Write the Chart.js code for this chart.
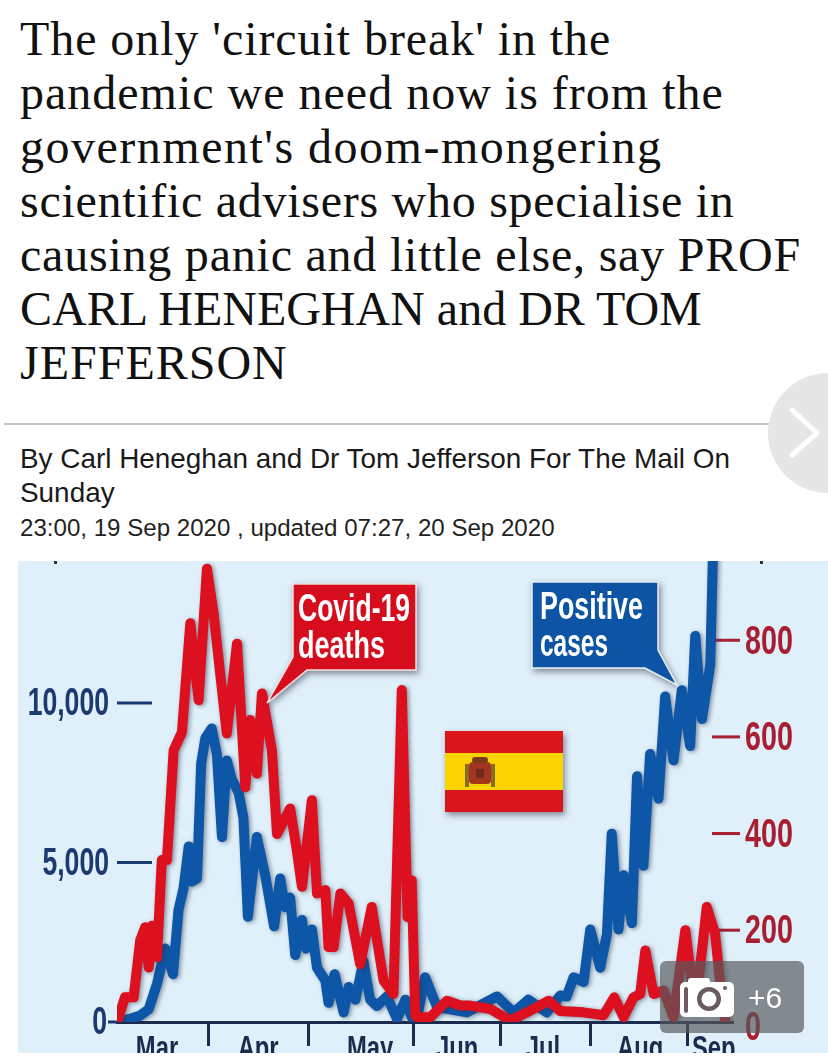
<!DOCTYPE html>
<html>
<head>
<meta charset="utf-8">
<script src="https://cdn.jsdelivr.net/npm/chart.js@4"></script>
<style>
    html, body { margin: 0; padding: 0; background: #fff; }
    body { width: 828px; height: 1059px; position: relative; overflow: hidden; }
    #headline { position: absolute; left: 20px; top: 12px; font: 48px/54px "Liberation Serif", serif; color: #111; white-space: nowrap; }
    #headline span { display: block; }
    #rule { position: absolute; left: 4px; top: 423px; width: 820px; height: 2px; background: #c6c6c6; }
    #byline { position: absolute; left: 20px; top: 442px; font: 27.9px/34px "Liberation Sans", sans-serif; color: #1a1a1a; white-space: nowrap; }
    #dateline { position: absolute; left: 20px; top: 513px; font: 24.1px/30px "Liberation Sans", sans-serif; color: #222; white-space: nowrap; }
    #chartBox { position: absolute; left: 18px; top: 561px; width: 810px; height: 492px; overflow: hidden; background: #dff0fa; }
    #chartBox canvas { position: absolute; left: 0; top: 0; filter: blur(0.7px); }
    svg { position: absolute; left: 0; top: 0; }
    .tag { font: bold 38px "Liberation Sans", sans-serif; fill: #fff; }
</style>
</head>
<body>
<div id="headline">
    <span style="letter-spacing:.93px">The only 'circuit break' in the</span>
    <span style="letter-spacing:1px">pandemic we need now is from the</span>
    <span style="letter-spacing:1.5px">government's doom-mongering</span>
    <span style="letter-spacing:.72px">scientific advisers who specialise in</span>
    <span style="letter-spacing:.78px">causing panic and little else, say PROF</span>
    <span>CARL HENEGHAN and DR TOM</span>
    <span style="letter-spacing:1px">JEFFERSON</span>
</div>
<div id="rule"></div>
<div id="byline">By Carl Heneghan and Dr Tom Jefferson For The Mail On<br>Sunday</div>
<div id="dateline">23:00, 19 Sep 2020 , updated 07:27, 20 Sep 2020</div>

<div id="chartBox"><canvas id="casesChart" width="810" height="520"></canvas></div>

<svg width="828" height="1059" viewBox="0 0 828 1059">
    <defs>
        <filter id="soft" x="-20%" y="-20%" width="140%" height="140%">
            <feDropShadow dx="2" dy="3" stdDeviation="3" flood-color="#334" flood-opacity="0.55"/>
        </filter>
    </defs>
    <!-- Seta de navegação -->
    <circle cx="828" cy="433" r="60" fill="#e6e6e6"/>
    <path d="M792 410 L817 433 L792 455" fill="none" stroke="#fff" stroke-width="5" stroke-linecap="round" stroke-linejoin="round"/>

    <!-- Restos de marcas cortadas no topo da imagem -->
    <rect x="54" y="561" width="3" height="3" fill="#333"/>
    <rect x="760" y="561" width="3" height="3" fill="#333"/>

    <!-- Balões -->
    <polygon points="293,584 416,584 416,670 307,670 267,703 293,657" fill="#d5101f" stroke="#f3dcdc" stroke-width="1.5" filter="url(#soft)"/>
    <text class="tag" x="298" y="621" textLength="112" lengthAdjust="spacingAndGlyphs">Covid-19</text>
    <text class="tag" x="298" y="658" textLength="87" lengthAdjust="spacingAndGlyphs">deaths</text>
    <polygon points="532,582 658,582 658,650 677,685 645,668 532,668" fill="#0e54a4" stroke="#e4edf5" stroke-width="1.5" filter="url(#soft)"/>
    <text class="tag" x="540" y="619" textLength="103" lengthAdjust="spacingAndGlyphs">Positive</text>
    <text class="tag" x="540" y="656" textLength="68" lengthAdjust="spacingAndGlyphs">cases</text>

    <!-- Bandeira -->
    <g filter="url(#soft)">
        <rect x="445" y="731" width="118" height="81" fill="#d8141f"/>
        <rect x="445" y="753" width="118" height="37" fill="#fbd400"/>
    </g>
    <rect x="469" y="762" width="22" height="22" rx="4" fill="#a3351f"/>
    <rect x="465" y="764" width="4" height="23" fill="#8a6a2a"/>
    <rect x="491" y="764" width="4" height="23" fill="#8a6a2a"/>
    <rect x="472" y="757" width="16" height="6" rx="3" fill="#7b3a20"/>
    <rect x="476" y="769" width="8" height="9" fill="#6e2a24"/>

    <!-- Selo da galeria -->
    <rect x="660" y="961" width="144" height="72" rx="6" fill="#55585c" fill-opacity="0.68"/>
    <rect x="680" y="982" width="54" height="35" rx="5" fill="#fff"/>
    <rect x="688" y="978" width="22" height="8" rx="3" fill="#fff"/>
    <rect x="684" y="987" width="4" height="26" rx="2" fill="#6d5a5e"/>
    <circle cx="709" cy="999" r="12" fill="#6d5a5e"/>
    <circle cx="709" cy="999" r="7.5" fill="#fff"/>
    <circle cx="725" cy="988" r="2" fill="#6d5a5e"/>
    <text x="748" y="1008" font-family="Liberation Sans" font-size="30" fill="#fff">+6</text>
</svg>

<script>
// Dias contados a partir de 1 de março
const caseDays = [2.5, 6.6, 9.75, 12.4, 15, 17.6, 20, 21.7, 23.3, 24.9, 25.9, 27.5, 28.8, 30.1, 32.1, 33.7, 35.3, 36.8, 38.4, 40.5, 42, 43.4, 46.2, 48.8, 51.6, 53.5, 55, 56.6, 58.2, 60.3, 61.6, 63.4, 65, 67.6, 68.6, 70.5, 73.3, 74.9, 77, 79.5, 81.6, 83.7, 86.8, 90, 92.6, 94.6, 96.7, 98.8, 102.5, 111.8, 121.2, 126.4, 131, 136.8, 141, 143, 145.2, 148.3, 150.4, 153.5, 155.6, 157.1, 159.2, 160.8, 163.4, 165, 167, 169.1, 171.7, 173.8, 176.4, 179, 181.6, 183.2, 185.3, 187.9, 189];
const caseValues = [0, 100, 200, 400, 1200, 2300, 1500, 3500, 4200, 5500, 4400, 4500, 8100, 8900, 9200, 8400, 5800, 8200, 7600, 7200, 6400, 3300, 5800, 4600, 3000, 4500, 3600, 3900, 2100, 3200, 2300, 2900, 1700, 1300, 600, 1500, 300, 1100, 700, 1900, 700, 500, 800, 100, 700, 150, 350, 1400, 470, 300, 800, 300, 700, 300, 830, 800, 1400, 1250, 2900, 1700, 2760, 5900, 2900, 4600, 3100, 7700, 4900, 8400, 7000, 10200, 8200, 10400, 8650, 12100, 9500, 11200, 15800];

const deathDays = [2.5, 5, 7.7, 9.75, 11.3, 12.4, 13.4, 15, 16.5, 18.1, 20.2, 22.8, 25.4, 28, 30.6, 32.7, 36.8, 40, 42.6, 44.1, 46.2, 47.8, 50.9, 52.5, 56.6, 58.7, 60.3, 63.4, 65, 67.6, 68.6, 70.2, 72.3, 74.9, 78.5, 82.1, 85.8, 88.9, 91.5, 93.3, 94.6, 95.7, 96.2, 100.4, 105.6, 109.8, 112.9, 119.1, 125.4, 130.6, 137.4, 141, 148.3, 154.5, 157.9, 160.8, 163.9, 166, 167.6, 170.2, 173.3, 176.4, 180.1, 183.2, 186.8, 189.4, 191, 192.6];
const deathValues = [10, 61, 61, 179, 206, 123, 209, 144, 345, 345, 572, 610, 835, 676, 948, 855, 607, 793, 496, 635, 524, 690, 572, 399, 452, 365, 290, 469, 276, 283, 165, 165, 276, 255, 130, 248, 96, 68, 697, 227, 303, 24, 20, 20, 54, 44, 44, 37, 13, 30, 54, 33, 30, 24, 61, 20, 61, 68, 158, 68, 75, 20, 200, 33, 248, 193, 89, 10];

const monthNames = ['Mar', 'Apr', 'May', 'Jun', 'Jul', 'Aug', 'Sep'];
const monthCentres = [15, 46.6, 81.6, 108.8, 135.6, 166, 189];
const monthTicks = [31, 62.3, 95.1, 122.3, 150.4, 180.7];
const caseTicks = [0, 5000, 10000];
const deathTicks = [0, 200, 400, 600, 800];

const navy = '#1b3a70';
const darkRed = '#a71f30';
const ink = '#1c2b4d';

function toPoints(days, values) {
    return days.map((day, i) => ({ x: day, y: values[i] }));
}

// Texto estreito: a fonte condensada não existe, então comprime na horizontal
function narrowText(c, text, x, y, align, size, color) {
    c.save();
    c.font = 'bold ' + size + 'px "Liberation Sans", sans-serif';
    c.fillStyle = color;
    c.textAlign = align;
    c.textBaseline = 'middle';
    c.translate(x, y + 2);
    c.scale(0.7, 1);
    c.fillText(text, 0, 0);
    c.restore();
}

// Tracinhos e rótulos dos eixos, a partir das escalas
const axisMarks = {
    id: 'axisMarks',
    beforeDatasetsDraw(chart) {
        const { ctx: c, chartArea, scales } = chart;
        c.save();
        c.lineWidth = 3;
        c.strokeStyle = navy;
        caseTicks.forEach(value => {
            const y = scales.y.getPixelForValue(value);
            const from = value === 0 ? chartArea.left - 9 : chartArea.left;
            const to = value === 0 ? chartArea.left : chartArea.left + 35;
            c.beginPath();
            c.moveTo(from, y);
            c.lineTo(to, y);
            c.stroke();
            const labelX = chartArea.left - (value === 0 ? 10 : 8);
            narrowText(c, value.toLocaleString('en-GB'), labelX, y, 'right', 38, navy);
        });
        c.strokeStyle = darkRed;
        deathTicks.forEach(value => {
            const y = scales.y1.getPixelForValue(value);
            if (value > 0) {
                c.beginPath();
                c.moveTo(chartArea.right - 21, y);
                c.lineTo(chartArea.right + 7, y);
                c.stroke();
            }
            narrowText(c, String(value), chartArea.right + 12, y, 'left', 41, darkRed);
        });
        monthNames.forEach((name, i) => {
            const x = scales.x.getPixelForValue(monthCentres[i]);
            narrowText(c, name, x, chartArea.bottom + 26, 'center', 34, ink);
        });
        c.restore();
    },
    // Sombra suave das linhas
    beforeDatasetDraw(chart) {
        chart.ctx.save();
        chart.ctx.shadowColor = 'rgba(40, 50, 70, 0.5)';
        chart.ctx.shadowBlur = 4;
        chart.ctx.shadowOffsetX = 2;
        chart.ctx.shadowOffsetY = 1;
    },
    afterDatasetDraw(chart) {
        chart.ctx.restore();
    }
};

// Sem margem extra para os rótulos: a área do gráfico vai até o topo
function noPadding(axis) {
    axis.paddingTop = 0;
    axis.paddingBottom = 0;
    axis.paddingLeft = 0;
    axis.paddingRight = 0;
}

const ctx = document.getElementById('casesChart').getContext('2d');
new Chart(ctx, {
    type: 'line',
    data: {
        datasets: [
            {
                label: 'Covid-19 deaths',
                data: toPoints(deathDays, deathValues),
                yAxisID: 'y1',
                borderColor: '#dd1020',
                borderWidth: 10,
                borderJoinStyle: 'round',
                borderCapStyle: 'round',
                pointRadius: 0,
                order: 1
            },
            {
                label: 'Positive cases',
                data: toPoints(caseDays, caseValues),
                yAxisID: 'y',
                borderColor: '#0e56a8',
                borderWidth: 10,
                borderJoinStyle: 'round',
                borderCapStyle: 'round',
                pointRadius: 0,
                order: 2
            }
        ]
    },
    options: {
        responsive: false,
        animation: false,
        layout: { padding: 0 },
        plugins: { legend: { display: false }, tooltip: { enabled: false } },
        scales: {
            x: {
                type: 'linear',
                min: 2.5,
                max: 195,
                afterBuildTicks(axis) {
                    axis.ticks = monthTicks.map(value => ({ value }));
                },
                afterFit(axis) { axis.height = 59; noPadding(axis); },
                border: { color: ink, width: 3 },
                grid: { drawOnChartArea: false, tickLength: 24, tickWidth: 3, tickColor: ink },
                ticks: { display: false }
            },
            y: {
                position: 'left',
                min: 0,
                max: 14450,
                afterFit(axis) { axis.width = 99; noPadding(axis); },
                border: { display: false },
                grid: { display: false },
                ticks: { display: false }
            },
            y1: {
                position: 'right',
                min: 10,
                max: 964,
                afterFit(axis) { axis.width = 95; noPadding(axis); },
                border: { display: false },
                grid: { display: false },
                ticks: { display: false }
            }
        }
    },
    plugins: [axisMarks]
});
</script>
</body>
</html>
